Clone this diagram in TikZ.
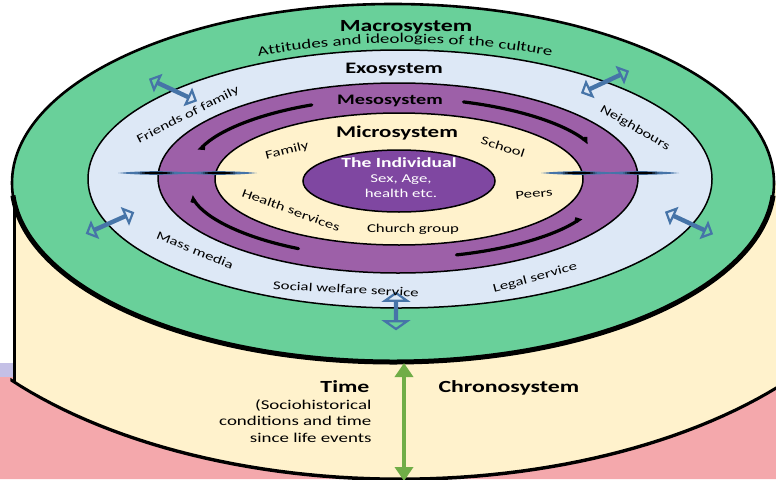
\documentclass[tikz,border=0pt]{standalone}
\usepackage{fontspec}
\setmainfont{Carlito}[FakeStretch=1.4]
\usetikzlibrary{arrows.meta,shapes.arrows,decorations.text}

\definecolor{macrogreen}{RGB}{105,208,154}
\definecolor{exoblue}{RGB}{221,232,246}
\definecolor{mesopurple}{RGB}{157,96,168}
\definecolor{cream}{RGB}{255,242,204}
\definecolor{indpurple}{RGB}{127,71,161}
\definecolor{arrowblue}{RGB}{70,116,168}
\definecolor{chrongreen}{RGB}{112,173,71}
\definecolor{wmpink}{RGB}{244,168,172}
\definecolor{wmlilac}{RGB}{196,192,230}
\definecolor{wmyellow}{RGB}{249,238,160}

\begin{document}
\begin{tikzpicture}[x=1pt, y=-1pt,
    ring/.style={line width=1.5pt},
    hook/.style={line width=3.2pt, line cap=round, -{Straight Barb[harpoon, length=2.5pt, width=6pt]}},
    dblarr/.style={double arrow, draw=arrowblue, line width=2.2pt, inner sep=0pt,
      minimum width=7pt, minimum height=50pt, double arrow head extend=6.5pt},
    lbl/.style={font=\fontsize{12}{14}\selectfont},
    ttl/.style={font=\fontsize{17}{20}\selectfont\bfseries, anchor=base}]

  \useasboundingbox (0,0) rectangle (776,479);
  \clip (0,0) rectangle (776,479);

  % Hintergrund
  \fill[white] (0,0) rectangle (776,479);
  \fill[wmlilac] (0,363) rectangle (14,377);
  \fill[wmpink] (0,377) -- (14,377)
    -- plot[domain=139.8:38, samples=60] ({400+505*cos(\x)}, {205+274*sin(\x)})
    -- (800,479) -- (0,479) -- cycle;

  % Zylinder
  \fill[cream] (14,183)
    -- plot[domain=139.8:38, samples=60] ({400+505*cos(\x)}, {205+274*sin(\x)})
    -- (800,183) -- cycle;
  \fill[black] (12.5,190) rectangle (15.5,383);
  \fill[black] plot[domain=140.5:38, samples=60] ({400+505*cos(\x)}, {203.5+274*sin(\x)})
    -- plot[domain=38:140.5, samples=60] ({400+505*cos(\x)}, {207+274*sin(\x)}) -- cycle;

  % Ringe
  \fill[macrogreen] (393,183) ellipse [x radius=381, y radius=179];
  \draw[line width=2.6pt] (393,183) ellipse [x radius=381, y radius=179];
  \draw[line width=5pt] (393,183) ++(4:381 and 179)
    arc[start angle=4, end angle=176, x radius=381, y radius=179];
  \draw[ring, fill=exoblue] (400,179) ellipse [x radius=312, y radius=129];
  \draw[ring, fill=mesopurple] (398,178) ellipse [x radius=240, y radius=95];
  \draw[ring, fill=cream] (399,179) ellipse [x radius=184, y radius=66];
  \draw[ring, fill=indpurple] (399,181) ellipse [x radius=96, y radius=31];

  % Pfeile im Mesosystem
  \foreach \a/\b in {246/200, 288/334, 118/167, 74/30}
    \draw[hook] (398,178) ++(\a:212 and 80)
      arc[start angle=\a, end angle=\b, x radius=212, y radius=80];

  \foreach \cx in {156,219,579,641} {
    \fill[arrowblue] (\cx-38,173) .. controls (\cx-15,170.6) and (\cx+15,170.6) .. (\cx+38,173)
      .. controls (\cx+15,175.4) and (\cx-15,175.4) .. cycle;
    \fill[black] (\cx-18,173) .. controls (\cx-7,171.4) and (\cx+7,171.4) .. (\cx+18,173)
      .. controls (\cx+7,174.6) and (\cx-7,174.6) .. cycle;
  }

  \node[dblarr, rotate=-25] (friendsarr) at (173,90) {};
  \node[dblarr, rotate=25] (neighbarr) at (605,82) {};
  \node[dblarr, rotate=24] (mediaarr) at (110,223) {};
  \node[dblarr, rotate=-25] (legalarr) at (689,223) {};
  \node[dblarr, rotate=90, minimum height=36pt, minimum width=9pt,
    double arrow head extend=10pt, double arrow tip angle=110] (welfarearr) at (396,311) {};

  \coordinate (chrontop) at (404,363);
  \coordinate (chronbot) at (404,481);
  \draw[chrongreen, line width=3.5pt, {Triangle[length=14pt, width=18pt]}-{Triangle[length=14pt, width=18pt]}]
    (chrontop) -- (chronbot);

  % Texte
  \node[ttl] (macro) at (406,31) {Macrosystem};
  \path[decorate, decoration={text along path, text align=center,
      text={|\fontsize{13.5}{15}\selectfont|Attitudes and ideologies of the culture}}]
    (405,183) ++(200:345 and 140) arc[start angle=200, end angle=340, x radius=345, y radius=140];
  \node[ttl, font=\fontsize{16}{19}\selectfont\bfseries] (exo) at (394,73) {Exosystem};
  \node[ttl, font=\fontsize{14.5}{17}\selectfont\bfseries] (meso) at (390,104) {Mesosystem};
  \node[ttl, font=\fontsize{16.4}{19}\selectfont\bfseries] (micro) at (397,137) {Microsystem};

  \node[ttl, white, font=\fontsize{14}{17}\selectfont\bfseries] (indiv) at (399,167) {The Individual};
  \node[lbl, white, anchor=base] (sexage) at (401,182) {Sex, Age,};
  \node[lbl, white, anchor=base] (health) at (401,197) {health etc.};

  \node[lbl, rotate=14] (family) at (287,151) {Family};
  \node[lbl, rotate=-18] (school) at (503,147) {School};
  \node[lbl, rotate=6] (peers) at (534,194) {Peers};
  \node[lbl, rotate=-20] (healthsrv) at (291,210) {Health services};
  \node[lbl] (church) at (413,229) {Church group};

  \node[lbl, rotate=27] (friends) at (188,115) {Friends of family};
  \node[lbl, rotate=-30] (neighb) at (635,128) {Neighbours};
  \node[lbl, rotate=-22] (media) at (195,250) {Mass media};
  \node[lbl, rotate=-3] (welfare) at (346,289) {Social welfare service};
  \node[lbl, rotate=15] (legal) at (535,278) {Legal service};

  \node[ttl, anchor=base east] (time) at (373,392) {Time};
  \node[anchor=north east, align=right, font=\fontsize{13.5}{16.5}\selectfont] (timetxt) at (375,396)
    {(Sociohistorical\\conditions and time\\since life events};
  \node[ttl, anchor=base west] (chrono) at (435,392) {Chronosystem};

\end{tikzpicture}
\end{document}
